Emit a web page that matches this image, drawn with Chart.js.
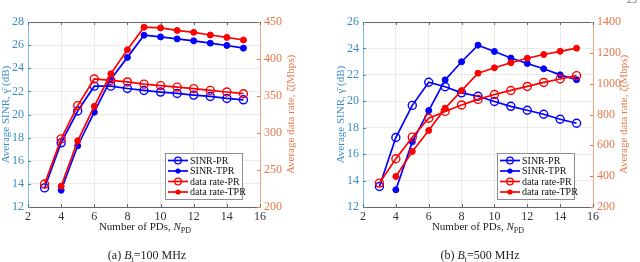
<!DOCTYPE html>
<html>
<head>
<meta charset="utf-8">
<script src="https://cdn.jsdelivr.net/npm/chart.js@4.4.1/dist/chart.umd.min.js"></script>
<style>
  body { margin: 0; background: #fff; width: 640px; height: 262px; position: relative; overflow: hidden;
         font-family: "Liberation Serif", "Times New Roman", serif; }
  canvas { position: absolute; top: 0; }
  .lbl { position: absolute; white-space: nowrap; transform: translateX(-50%); color: #222; }
  .xt { font-size: 11px; top: 220px; }
  .cap { font-size: 12px; top: 248px; }
  sub { font-size: 8px; }
  .pg { position: absolute; right: 3px; top: -6px; font-size: 10px; color: #666; }
</style>
</head>
<body>
<canvas id="c100" width="320" height="240" style="left:0"></canvas>
<canvas id="c500" width="320" height="240" style="left:335px"></canvas>
<div class="lbl xt" style="left:145px">Number of PDs, <i>N</i><sub>PD</sub></div>
<div class="lbl xt" style="left:478px">Number of PDs, <i>N</i><sub>PD</sub></div>
<div class="lbl cap" style="left:147px">(a) <i>B</i><sub>t</sub>=100 MHz</div>
<div class="lbl cap" style="left:480px">(b) <i>B</i><sub>t</sub>=500 MHz</div>
<div class="pg">25</div>
<script>
// number of PDs on the x axis
const nPD = [3, 4, 5, 6, 7, 8, 9, 10, 11, 12, 13, 14, 15]

// (a) Bt = 100 MHz
const sinrPR100 = [13.65, 17.55, 20.3, 22.45, 22.45, 22.25, 22.08, 21.94, 21.82, 21.68, 21.56, 21.39, 21.27]
const sinrTPR100 = [null, 13.45, 17.3, 20.2, 23.05, 24.94, 26.86, 26.71, 26.54, 26.37, 26.17, 25.97, 25.74]
const ratePR100 = [231, 292, 337, 373, 371, 369, 366, 364, 362, 360, 357.6, 355.4, 353.1]
const rateTPR100 = [null, 228, 289.5, 336, 380, 412.5, 443, 442, 438.6, 436, 432.4, 429.2, 425.7]

// (b) Bt = 500 MHz
const sinrPR500 = [13.55, 17.26, 19.69, 21.44, 21.1, 20.64, 20.38, 19.98, 19.62, 19.32, 19.02, 18.64, 18.34]
const sinrTPR500 = [null, 13.3, 16.93, 19.3, 21.62, 22.99, 24.25, 23.77, 23.27, 22.86, 22.46, 22.0, 21.63]
const ratePR500 = [355, 513, 653, 776, 820, 862, 898, 930, 956, 982, 1008, 1030, 1052]
const rateTPR500 = [null, 398, 560, 696, 841, 955, 1068, 1103, 1136, 1165, 1189, 1210, 1230]

const xTicks = [2, 4, 6, 8, 10, 12, 14, 16]
const sinrTicks100 = [12, 28, 2]
const rateTicks100 = [200, 450, 50]
const sinrTicks500 = [12, 26, 2]
const rateTicks500 = [200, 1400, 200]

const BLUE = "#0000ff"
const RED = "#ff0000"
const AX_BLUE = "#3b8cc6"
const AX_ORANGE = "#e5784b"
const FAMILY = '"Liberation Serif", "Times New Roman", serif'
const FONT = { family: FAMILY, size: 11 }
const TICK_FONT = { family: FAMILY, size: 12 }

const pts = (ys) => nPD.map((x, i) => ({ x, y: ys[i] }))

function series(label, ys, color, hollow, axis) {
  return {
    label,
    data: pts(ys),
    yAxisID: axis,
    borderColor: color,
    backgroundColor: color,
    borderWidth: 1.7,
    pointRadius: hollow ? 4 : 3,
    pointBorderWidth: hollow ? 1.4 : 1,
    pointBackgroundColor: hollow ? "rgba(0,0,0,0)" : color,
    pointBorderColor: color,
    hollow,
    order: axis === "y1" ? 0 : 1,
    spanGaps: false,
  }
}

// inward tick marks + top box edge, MATLAB style
const boxTicks = {
  id: "boxTicks",
  afterDatasetsDraw(chart) {
    const { ctx, chartArea: a, scales } = chart
    ctx.save()
    ctx.lineWidth = 1
    ctx.strokeStyle = "#666"
    ctx.beginPath()
    ctx.moveTo(a.left, a.top + 0.5)
    ctx.lineTo(a.right, a.top + 0.5)
    scales.x.ticks.forEach((t) => {
      const px = Math.round(scales.x.getPixelForValue(t.value)) + 0.5
      ctx.moveTo(px, a.bottom); ctx.lineTo(px, a.bottom - 3)
      ctx.moveTo(px, a.top); ctx.lineTo(px, a.top + 3)
    })
    ctx.stroke()
    ctx.strokeStyle = AX_BLUE
    ctx.beginPath()
    scales.y.ticks.forEach((t) => {
      const py = Math.round(scales.y.getPixelForValue(t.value)) + 0.5
      ctx.moveTo(a.left, py); ctx.lineTo(a.left + 3, py)
    })
    ctx.stroke()
    ctx.strokeStyle = AX_ORANGE
    ctx.beginPath()
    scales.y1.ticks.forEach((t) => {
      const py = Math.round(scales.y1.getPixelForValue(t.value)) + 0.5
      ctx.moveTo(a.right, py); ctx.lineTo(a.right - 3, py)
    })
    ctx.stroke()
    ctx.restore()
  },
}

// right axis title, rotated the same way as the left one
const rightTitle = {
  id: "rightTitle",
  afterDraw(chart, args, opts) {
    const { ctx, chartArea: a } = chart
    ctx.save()
    ctx.translate(a.right + 31, (a.top + a.bottom) / 2)
    ctx.rotate(-Math.PI / 2)
    ctx.font = `${FONT.size}px ${FAMILY}`
    ctx.fillStyle = AX_ORANGE
    ctx.textAlign = "center"
    ctx.textBaseline = "middle"
    ctx.fillText(opts.text, 0, 0)
    ctx.restore()
  },
}

// legend box drawn inside the plot
const boxLegend = {
  id: "boxLegend",
  afterDraw(chart, args, opts) {
    const { ctx } = chart
    const x0 = opts.left, y0 = opts.top, w = 77, h = 46
    ctx.save()
    ctx.fillStyle = "#fff"
    ctx.fillRect(x0, y0, w, h)
    ctx.strokeStyle = "#8c8c8c"
    ctx.lineWidth = 1
    ctx.strokeRect(x0 + 0.5, y0 + 0.5, w, h)
    ctx.font = `10px ${FAMILY}`
    ctx.textBaseline = "middle"
    chart.data.datasets.forEach((ds, i) => {
      const y = y0 + 7.5 + i * 10.5
      ctx.strokeStyle = ds.borderColor
      ctx.lineWidth = 1.7
      ctx.beginPath()
      ctx.moveTo(x0 + 3, y); ctx.lineTo(x0 + 23, y)
      ctx.stroke()
      ctx.beginPath()
      ctx.arc(x0 + 13, y, ds.hollow ? 3.3 : 2.6, 0, Math.PI * 2)
      if (ds.hollow) { ctx.lineWidth = 1.3; ctx.stroke() } else { ctx.fillStyle = ds.borderColor; ctx.fill() }
      ctx.fillStyle = "#111"
      ctx.fillText(ds.label, x0 + 25, y + 0.5)
    })
    ctx.restore()
  },
}

function makeChart(id, d, sinrT, rateT, legendLeft, rightPad) {
  return new Chart(document.getElementById(id), {
    type: "line",
    data: {
      datasets: [
        series("SINR-PR", d[0], BLUE, true, "y"),
        series("SINR-TPR", d[1], BLUE, false, "y"),
        series("data rate-PR", d[2], RED, true, "y1"),
        series("data rate-TPR", d[3], RED, false, "y1"),
      ],
    },
    options: {
      responsive: false,
      animation: false,
      devicePixelRatio: 1,
      layout: { padding: { top: 22, right: rightPad, left: 0, bottom: 0 } },
      scales: {
        x: {
          type: "linear",
          min: xTicks[0],
          max: xTicks[xTicks.length - 1],
          afterBuildTicks: (s) => { s.ticks = xTicks.map((v) => ({ value: v })) },
          ticks: { color: "#333", font: TICK_FONT, padding: 3, maxRotation: 0, callback: (v) => String(v) },
          grid: { color: "#ebebeb", drawTicks: false },
          border: { color: "#666" },
          afterFit: (s) => { s.height = 33 },
        },
        y: {
          position: "left",
          min: sinrT[0],
          max: sinrT[1],
          ticks: { stepSize: sinrT[2], color: AX_BLUE, font: TICK_FONT, padding: 4, callback: (v) => String(v) },
          grid: { color: "#ebebeb", drawTicks: false },
          border: { color: "#86bbe2" },
          title: { display: true, text: "Average SINR, γ̄ (dB)", color: AX_BLUE, font: FONT, padding: 0 },
          afterFit: (s) => { s.width = 28 },
        },
        y1: {
          position: "right",
          min: rateT[0],
          max: rateT[1],
          ticks: { stepSize: rateT[2], color: AX_ORANGE, font: TICK_FONT, padding: 4, callback: (v) => String(v) },
          grid: { drawOnChartArea: false, drawTicks: false },
          border: { color: "#f0a786" },
          afterFit: (s) => { s.width = 36 },
        },
      },
      plugins: {
        legend: { display: false },
        tooltip: { enabled: false },
        rightTitle: { text: "Average data rate, ζ̄(Mbps)" },
        boxLegend: { left: legendLeft, top: 153 },
      },
    },
    plugins: [boxTicks, rightTitle, boxLegend],
  })
}

function draw() {
  makeChart("c100", [sinrPR100, sinrTPR100, ratePR100, rateTPR100], sinrTicks100, rateTicks100, 165, 24)
  makeChart("c500", [sinrPR500, sinrTPR500, ratePR500, rateTPR500], sinrTicks500, rateTicks500, 162, 26)
}

Promise.all([
  document.fonts.load('11px "Liberation Serif"'),
  document.fonts.load('italic 11px "Liberation Serif"'),
]).then(draw, draw)
</script>
</body>
</html>
